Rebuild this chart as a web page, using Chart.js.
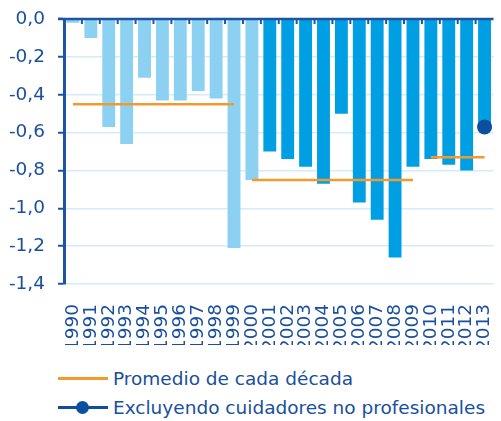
<!DOCTYPE html>
<html>
<head>
<meta charset="utf-8">
<script src="https://cdn.jsdelivr.net/npm/chart.js@4"></script>
<style>
  body { margin: 0; background: #fff; font-family: 'DejaVu Sans', sans-serif; }
  #wrap { position: relative; width: 501px; height: 421px; }
  .legend { position: absolute; left: 58px; color: #1a4f9e; font-size: 18.5px; }
  .legend .row { position: relative; height: 29px; line-height: 29px; padding-left: 55px; white-space: nowrap; }
  .legend .sym { position: absolute; left: 0; top: 13px; width: 50px; height: 3px; }
  .legend .dot { position: absolute; left: 18px; top: -5px; width: 13px; height: 13px; border-radius: 50%; background: #0d4f9f; }
</style>
</head>
<body>
<div id="wrap">
  <canvas id="myChart" width="501" height="345"></canvas>
  <div class="legend" style="top: 364px;">
    <div class="row"><span class="sym" style="background:#f39a2c;"></span>Promedio de cada década</div>
    <div class="row"><span class="sym" style="background:#0d4f9f;"><span class="dot"></span></span>Excluyendo cuidadores no profesionales</div>
  </div>
</div>
<script>
'use strict';

let years = ['1990', '1991', '1992', '1993', '1994', '1995', '1996', '1997', '1998', '1999',
  '2000', '2001', '2002', '2003', '2004', '2005', '2006', '2007', '2008', '2009',
  '2010', '2011', '2012', '2013'];
let values = [-0.02, -0.10, -0.57, -0.66, -0.31, -0.43, -0.43, -0.38, -0.42, -1.21,
  -0.85, -0.70, -0.74, -0.78, -0.87, -0.50, -0.97, -1.06, -1.26, -0.78,
  -0.74, -0.77, -0.80, -0.56];
let excluding = [null, null, null, null, null, null, null, null, null, null,
  null, null, null, null, null, null, null, null, null, null,
  null, null, null, -0.57];
let decades = ['199', '200', '201'];
let decadeAvg = [-0.45, -0.85, -0.73];
let yTicks = [0, -0.2, -0.4, -0.6, -0.8, -1.0, -1.2, -1.4];

let axisColor = '#1c55a3';
let gridColor = '#d3ecf8';
let textColor = '#1a4f9e';
let lightBar = '#8dd1f2';
let darkBar = '#009fe3';

let barColors = years.map(function (y) {
  return Number(y) <= 2000 ? lightBar : darkBar;
});

let avgDatasets = decades.map(function (d, i) {
  return {
    type: 'line',
    label: 'Promedio de cada década',
    data: years.map(function (y) { return y.startsWith(d) ? decadeAvg[i] : null; }),
    borderColor: '#f39a2c',
    borderWidth: 2.5,
    pointRadius: 0,
    spanGaps: false,
    order: 1
  };
});

// axis line at zero with small ticks between categories
let topAxis = {
  id: 'topAxis',
  afterDatasetsDraw(chart) {
    let ctx = chart.ctx;
    let area = chart.chartArea;
    let x = chart.scales.x;
    let y0 = chart.scales.y.getPixelForValue(0);
    let step = x.getPixelForValue(1) - x.getPixelForValue(0);
    ctx.save();
    ctx.strokeStyle = axisColor;
    ctx.lineWidth = 2.5;
    ctx.beginPath();
    ctx.moveTo(area.left - 6, y0);
    ctx.lineTo(area.right, y0);
    ctx.stroke();
    ctx.lineWidth = 2;
    for (let i = 1; i < years.length; i++) {
      let px = x.getPixelForValue(i) - step / 2;
      ctx.beginPath();
      ctx.moveTo(px, y0);
      ctx.lineTo(px, y0 + 5);
      ctx.stroke();
    }
    ctx.restore();
  }
};

const config = {
  data: {
    labels: years,
    datasets: [{
      type: 'bar',
      label: 'values',
      data: values,
      backgroundColor: barColors,
      barPercentage: 0.72,
      categoryPercentage: 1,
      order: 3
    }].concat(avgDatasets, [{
      type: 'line',
      label: 'Excluyendo cuidadores no profesionales',
      data: excluding,
      showLine: false,
      pointRadius: 7.5,
      pointBackgroundColor: '#0d4f9f',
      pointBorderWidth: 0,
      order: 0
    }])
  },
  options: {
    responsive: false,
    animation: false,
    layout: { padding: { top: 19, right: 0, left: 0, bottom: 0 } },
    plugins: {
      legend: { display: false },
      tooltip: { enabled: false }
    },
    scales: {
      x: {
        grid: { display: false },
        border: { display: false },
        ticks: {
          color: textColor,
          font: { family: 'DejaVu Sans', size: 18.5 },
          minRotation: 90,
          maxRotation: 90,
          autoSkip: false,
          padding: 12
        },
        afterFit(scale) {
          scale.height = 61;
          scale.paddingLeft = 0;
          scale.paddingRight = 0;
        }
      },
      y: {
        min: -1.4,
        max: 0,
        afterBuildTicks(scale) {
          scale.ticks = yTicks.map(function (v) { return { value: v }; });
        },
        grid: { color: gridColor, lineWidth: 1.5, tickColor: axisColor, tickLength: 6, tickWidth: 2 },
        border: { color: axisColor, width: 3 },
        ticks: {
          color: textColor,
          font: { family: 'DejaVu Sans', size: 18.5 },
          padding: 13,
          callback(v) { return v.toFixed(1).replace('.', ',').replace('-0,0', '0,0'); }
        },
        afterFit(scale) {
          scale.width = 64;
          scale.paddingTop = 0;
          scale.paddingBottom = 0;
        }
      }
    }
  },
  plugins: [topAxis]
};

const myChart = new Chart(document.getElementById('myChart'), config);
</script>
</body>
</html>
